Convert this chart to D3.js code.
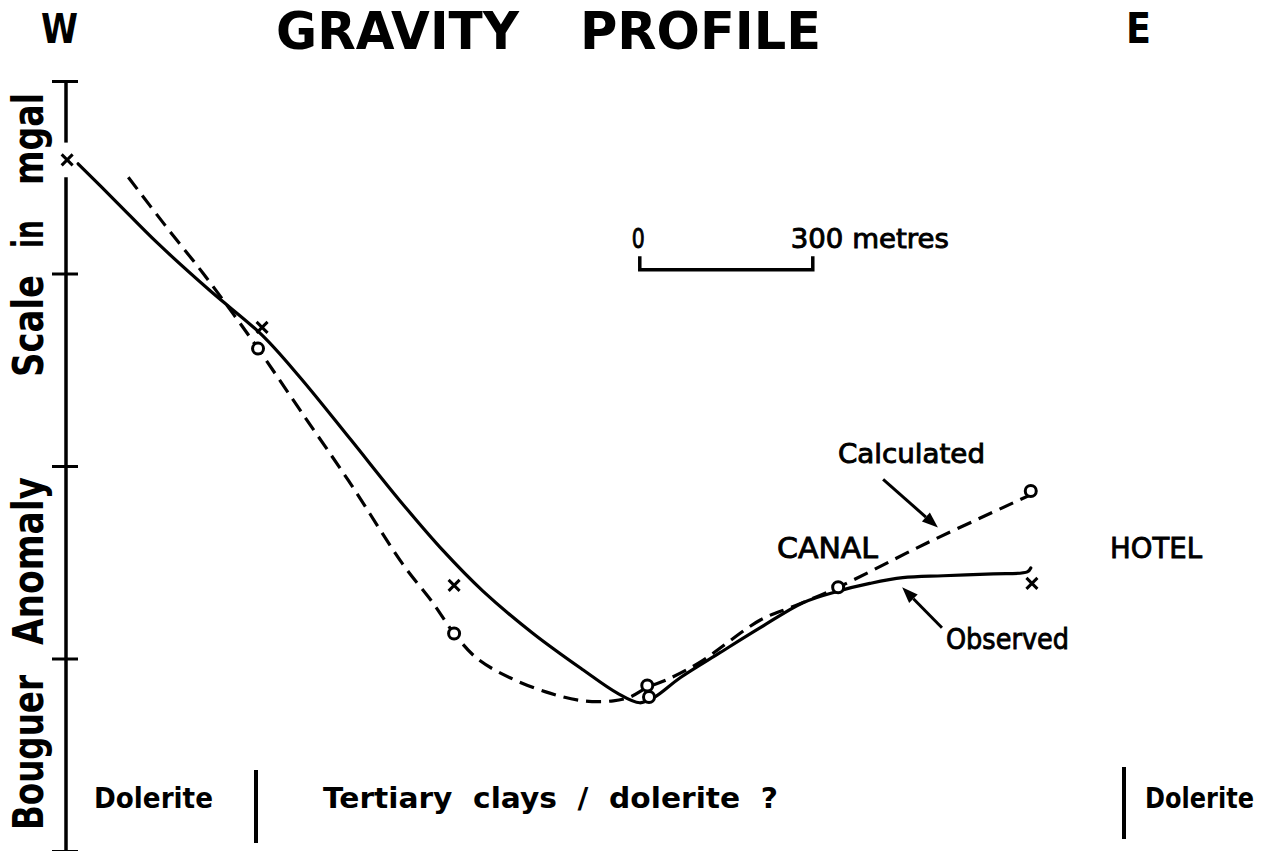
<!DOCTYPE html>
<html><head><meta charset="utf-8">
<script src="https://cdn.jsdelivr.net/npm/d3@7"></script>
<style>html,body{margin:0;padding:0;background:#fff;} svg{display:block;}</style>
</head><body>
<svg id="chart" width="1268" height="851"></svg>
<script>
// ---------------- data (distance in metres, anomaly in mgal) ----------------
const tickValues = [0, 1, 2, 3, 4];
const observed = [[21,3.57],[88,3.37],[158,3.16],[250,2.91],[340,2.68],[406,2.46],[493,2.14],[579,1.82],[654,1.56],[723,1.35],[810,1.13],[897,0.94],[956,0.82],[995,0.77],[1021,0.80],[1065,0.90],[1134,1.03],[1204,1.16],[1278,1.29],[1339,1.35],[1394,1.39],[1451,1.42],[1521,1.43],[1608,1.44],[1667,1.45],[1673,1.47]];
const calculated = [[108,3.50],[172,3.25],[238,3.00],[290,2.79],[333,2.61],[406,2.29],[493,1.91],[584,1.49],[636,1.29],[673,1.13],[713,1.00],[770,0.90],[839,0.82],[897,0.78],[949,0.78],[978,0.80],[1008,0.85],[1042,0.89],[1099,0.98],[1204,1.20],[1261,1.27],[1339,1.37],[1493,1.60],[1680,1.86]];
const observedStations = [[2,3.59],[340,2.72],[673,1.38],[1675,1.39]];
const calculatedStations = [[333,2.61],[673,1.13],[1008,0.86],[1011,0.80],[1339,1.37],[1673,1.87]];
const scaleBarMetres = [995, 1295];
const scaleBarLevel = 3.02;
const scaleBarTickTop = 3.09;
const axisGap = [3.68, 3.50];
const calcArrow = [[1417,1.93],[1512,1.68]];
const obsArrow = [[1519,1.16],[1450,1.37]];

// ---------------- scales ----------------
const svg = d3.select("#chart");
const x = d3.scaleLinear().domain([0, 300]).range([66, 239]);
const y = d3.scaleLinear().domain([0, 4]).range([851, 81]);
const FONT = "'DejaVu Sans', sans-serif";

// ---------------- axis ----------------
const ax = svg.append("g").attr("transform", `translate(${x(0)},0)`);
ax.append("g").call(d3.axisLeft(y).tickValues(tickValues).tickSize(14).tickSizeOuter(0).tickFormat(""))
  .call(g => g.select(".domain").remove());
ax.append("g").call(d3.axisRight(y).tickValues(tickValues).tickSize(12).tickSizeOuter(0).tickFormat(""))
  .call(g => g.select(".domain").remove());
ax.selectAll(".tick line").attr("stroke", "#000").attr("stroke-width", 3);
ax.append("line").attr("y1", y(4)).attr("y2", y(axisGap[0])).attr("stroke", "#000").attr("stroke-width", 3.5);
ax.append("line").attr("y1", y(axisGap[1])).attr("y2", y(0)).attr("stroke", "#000").attr("stroke-width", 3.5);

// ---------------- curves ----------------
const line = d3.line().x(d => x(d[0])).y(d => y(d[1])).curve(d3.curveCatmullRom.alpha(0.5));
svg.append("path").datum(observed).attr("d", line).attr("fill", "none")
  .attr("stroke", "#000").attr("stroke-width", 3.2).attr("stroke-linecap", "round");
svg.append("path").datum(calculated).attr("d", line).attr("fill", "none")
  .attr("stroke", "#000").attr("stroke-width", 3.2).attr("stroke-dasharray", "15,8");

// ---------------- station markers ----------------
svg.append("g").selectAll("path").data(observedStations).join("path")
  .attr("transform", d => `translate(${x(d[0])},${y(d[1])})`)
  .attr("d", "M-5.5,-5.5L5.5,5.5M-5.5,5.5L5.5,-5.5").attr("stroke", "#000").attr("stroke-width", 3);
svg.append("g").selectAll("circle").data(calculatedStations).join("circle")
  .attr("cx", d => x(d[0])).attr("cy", d => y(d[1])).attr("r", 5.5)
  .attr("fill", "#fff").attr("stroke", "#000").attr("stroke-width", 3);

// ---------------- arrows ----------------
function arrow(pts) {
  const [x1, y1] = [x(pts[0][0]), y(pts[0][1])];
  const [x2, y2] = [x(pts[1][0]), y(pts[1][1])];
  const a = Math.atan2(y2 - y1, x2 - x1), L = 16, W = 6;
  const bx = x2 - L * Math.cos(a), by = y2 - L * Math.sin(a);
  svg.append("line").attr("x1", x1).attr("y1", y1).attr("x2", bx).attr("y2", by)
    .attr("stroke", "#000").attr("stroke-width", 3);
  svg.append("path").attr("fill", "#000").attr("d",
    `M${x2},${y2}L${bx + W * Math.sin(a)},${by - W * Math.cos(a)}L${bx - W * Math.sin(a)},${by + W * Math.cos(a)}Z`);
}
arrow(calcArrow);
arrow(obsArrow);

// ---------------- scale bar ----------------
const sb = svg.append("g").attr("stroke", "#000").attr("stroke-width", 3.5).attr("fill", "none");
sb.append("path").attr("d",
  `M${x(scaleBarMetres[0])},${y(scaleBarTickTop)}V${y(scaleBarLevel)}H${x(scaleBarMetres[1])}V${y(scaleBarTickTop)}`);

// ---------------- text ----------------
function txt(s, px, py, size, weight, len, extra) {
  const t = svg.append("text").attr("x", px).attr("y", py).attr("font-family", FONT)
    .attr("font-size", size).attr("font-weight", weight).attr("fill", "#000")
    .attr("xml:space", "preserve").text(s);
  if (len) t.attr("textLength", len).attr("lengthAdjust", "spacingAndGlyphs");
  if (extra) extra(t);
  return t;
}
const thick = t => t.attr("stroke", "#000").attr("stroke-width", 0.9);

txt("GRAVITY", 276, 49, 52, "bold", 243);
txt("PROFILE", 580, 49, 52, "bold", 241);
txt("W", 41, 43, 41, "bold", 37);
txt("E", 1126, 43, 42, "bold", 25);

txt("0", x(scaleBarMetres[0]) - 8, 248, 26, "normal", 13, thick);
txt("300 metres", x(scaleBarMetres[1]) - 22, 248, 26, "normal", 158, thick);

txt("Calculated", 838, 463, 26, "normal", 147, thick);
txt("CANAL", 777, 558, 29, "normal", 101, thick);
txt("HOTEL", 1110, 558, 29, "normal", 92, thick);
txt("Observed", 946, 649, 29, "normal", 123, thick);

// rotated axis label, word by word
const yl = [["Bouguer", 830, 155], ["Anomaly", 645, 168], ["Scale", 377, 102], ["in", 248, 28], ["mgal", 185, 92]];
yl.forEach(([w, start, len]) => {
  svg.append("text").attr("transform", `translate(43,${start}) rotate(-90)`)
    .attr("font-family", FONT).attr("font-size", 42).attr("font-weight", "bold")
    .attr("textLength", len).attr("lengthAdjust", "spacingAndGlyphs").text(w);
});

// geology strip
txt("Dolerite", 94, 808, 29, "bold", 119);
txt("Tertiary  clays  /  dolerite  ?", 323, 808, 29, "bold", 455);
svg.append("text").attr("transform", "translate(1145,808) scale(0.86,1)")
  .attr("font-family", FONT).attr("font-size", 28).attr("font-weight", "bold").text("Dolerite");
svg.append("line").attr("x1", 256).attr("x2", 256).attr("y1", 770).attr("y2", 843).attr("stroke", "#000").attr("stroke-width", 4);
svg.append("line").attr("x1", 1124).attr("x2", 1124).attr("y1", 767).attr("y2", 839).attr("stroke", "#000").attr("stroke-width", 4);
</script>
</body></html>
